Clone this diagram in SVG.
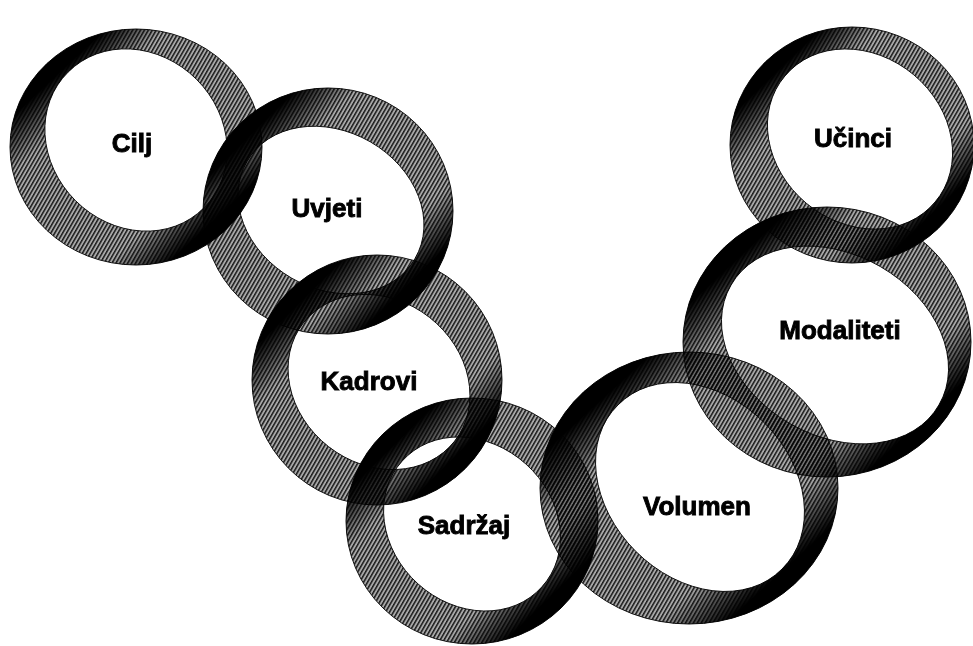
<svg xmlns="http://www.w3.org/2000/svg" width="973" height="646" viewBox="0 0 973 646">
<defs>
<pattern id="hatch" width="3.4" height="10" patternUnits="userSpaceOnUse" patternTransform="rotate(30)">
<rect width="3.4" height="10" fill="#a8a8a8"/><rect width="1.5" height="10" fill="#1a1a1a"/>
</pattern>
<linearGradient id="shade" x1="0" y1="0" x2="1" y2="1">
<stop offset="0" stop-color="#000" stop-opacity="1"/>
<stop offset="0.19" stop-color="#000" stop-opacity="1"/>
<stop offset="0.31" stop-color="#000" stop-opacity="0"/>
<stop offset="0.69" stop-color="#000" stop-opacity="0"/>
<stop offset="0.81" stop-color="#000" stop-opacity="1"/>
<stop offset="1" stop-color="#000" stop-opacity="1"/>
</linearGradient>
<path id="r1" fill-rule="evenodd" clip-rule="evenodd" d="M10,147 a126,118 0 1,0 252,0 a126,118 0 1,0 -252,0 Z M68.12,72.12 a96,85 45 1,0 135.76,135.76 a96,85 45 1,0 -135.76,-135.76 Z"/>
<path id="r2" fill-rule="evenodd" clip-rule="evenodd" d="M203,211 a125,123 0 1,0 250,0 a125,123 0 1,0 -250,0 Z M247,161.5 a97,78 30 1,0 168,97 a97,78 30 1,0 -168,-97 Z"/>
<path id="r3" fill-rule="evenodd" clip-rule="evenodd" d="M252,380 a125,125 0 1,0 250,0 a125,125 0 1,0 -250,0 Z M303.35,322.89 a96,82 38 1,0 151.3,118.22 a96,82 38 1,0 -151.3,-118.22 Z"/>
<path id="r4" fill-rule="evenodd" clip-rule="evenodd" d="M346,521 a126,123 0 1,0 252,0 a126,123 0 1,0 -252,0 Z M402.15,461.1 a94,80 42 1,0 139.7,125.8 a94,80 42 1,0 -139.7,-125.8 Z"/>
<path id="r5" fill-rule="evenodd" clip-rule="evenodd" d="M540,488 a149,136 0 1,0 298,0 a149,136 0 1,0 -298,0 Z M617.98,404.98 a116,90 45 1,0 164.04,164.04 a116,90 45 1,0 -164.04,-164.04 Z"/>
<path id="r6" fill-rule="evenodd" clip-rule="evenodd" d="M683,342 a144,135 0 1,0 288,0 a144,135 0 1,0 -288,0 Z M731.08,285 a120,90 30 1,0 207.84,120 a120,90 30 1,0 -207.84,-120 Z"/>
<path id="r7" fill-rule="evenodd" clip-rule="evenodd" d="M730,145 a122,118 0 1,0 244,0 a122,118 0 1,0 -244,0 Z M784.93,76.01 a98,83 40 1,0 150.14,125.98 a98,83 40 1,0 -150.14,-125.98 Z"/>
<clipPath id="c1"><use href="#r1"/></clipPath>
<clipPath id="c2"><use href="#r2"/></clipPath>
<clipPath id="c3"><use href="#r3"/></clipPath>
<clipPath id="c4"><use href="#r4"/></clipPath>
<clipPath id="c5"><use href="#r5"/></clipPath>
<clipPath id="c6"><use href="#r6"/></clipPath>
<clipPath id="c7"><use href="#r7"/></clipPath>
</defs>
<style>
.ring{mix-blend-mode:multiply}
.band{fill:url(#hatch);stroke:#111;stroke-width:1}
.shade{fill:url(#shade)}
.label{font-family:"Liberation Sans",Arial,Helvetica,sans-serif;font-weight:bold;font-size:26px;text-anchor:middle;fill:#000;stroke:#000;stroke-width:.9}
</style>
<rect width="973" height="646" fill="#fff"/>

<g id="cilj" class="ring">
<use href="#r1" class="band"/>
<rect class="shade" clip-path="url(#c1)" x="10" y="29" width="252" height="236"/>
<text class="label" x="132" y="152">Cilj</text>
</g>

<g id="uvjeti" class="ring">
<use href="#r2" class="band"/>
<rect class="shade" clip-path="url(#c2)" x="203" y="88" width="250" height="246"/>
<text class="label" x="327" y="217">Uvjeti</text>
</g>

<g id="kadrovi" class="ring">
<use href="#r3" class="band"/>
<rect class="shade" clip-path="url(#c3)" x="252" y="255" width="250" height="250"/>
<text class="label" x="369" y="390">Kadrovi</text>
</g>

<g id="sadrzaj" class="ring">
<use href="#r4" class="band"/>
<rect class="shade" clip-path="url(#c4)" x="346" y="398" width="252" height="246"/>
<text class="label" x="464" y="534">Sadržaj</text>
</g>

<g id="volumen" class="ring">
<use href="#r5" class="band"/>
<rect class="shade" clip-path="url(#c5)" x="540" y="352" width="298" height="272"/>
<text class="label" x="697" y="515">Volumen</text>
</g>

<g id="modaliteti" class="ring">
<use href="#r6" class="band"/>
<rect class="shade" clip-path="url(#c6)" x="683" y="207" width="288" height="270"/>
<text class="label" x="840" y="339">Modaliteti</text>
</g>

<g id="ucinci" class="ring">
<use href="#r7" class="band"/>
<rect class="shade" clip-path="url(#c7)" x="730" y="27" width="244" height="236"/>
<text class="label" x="853" y="147">Učinci</text>
</g>
</svg>
